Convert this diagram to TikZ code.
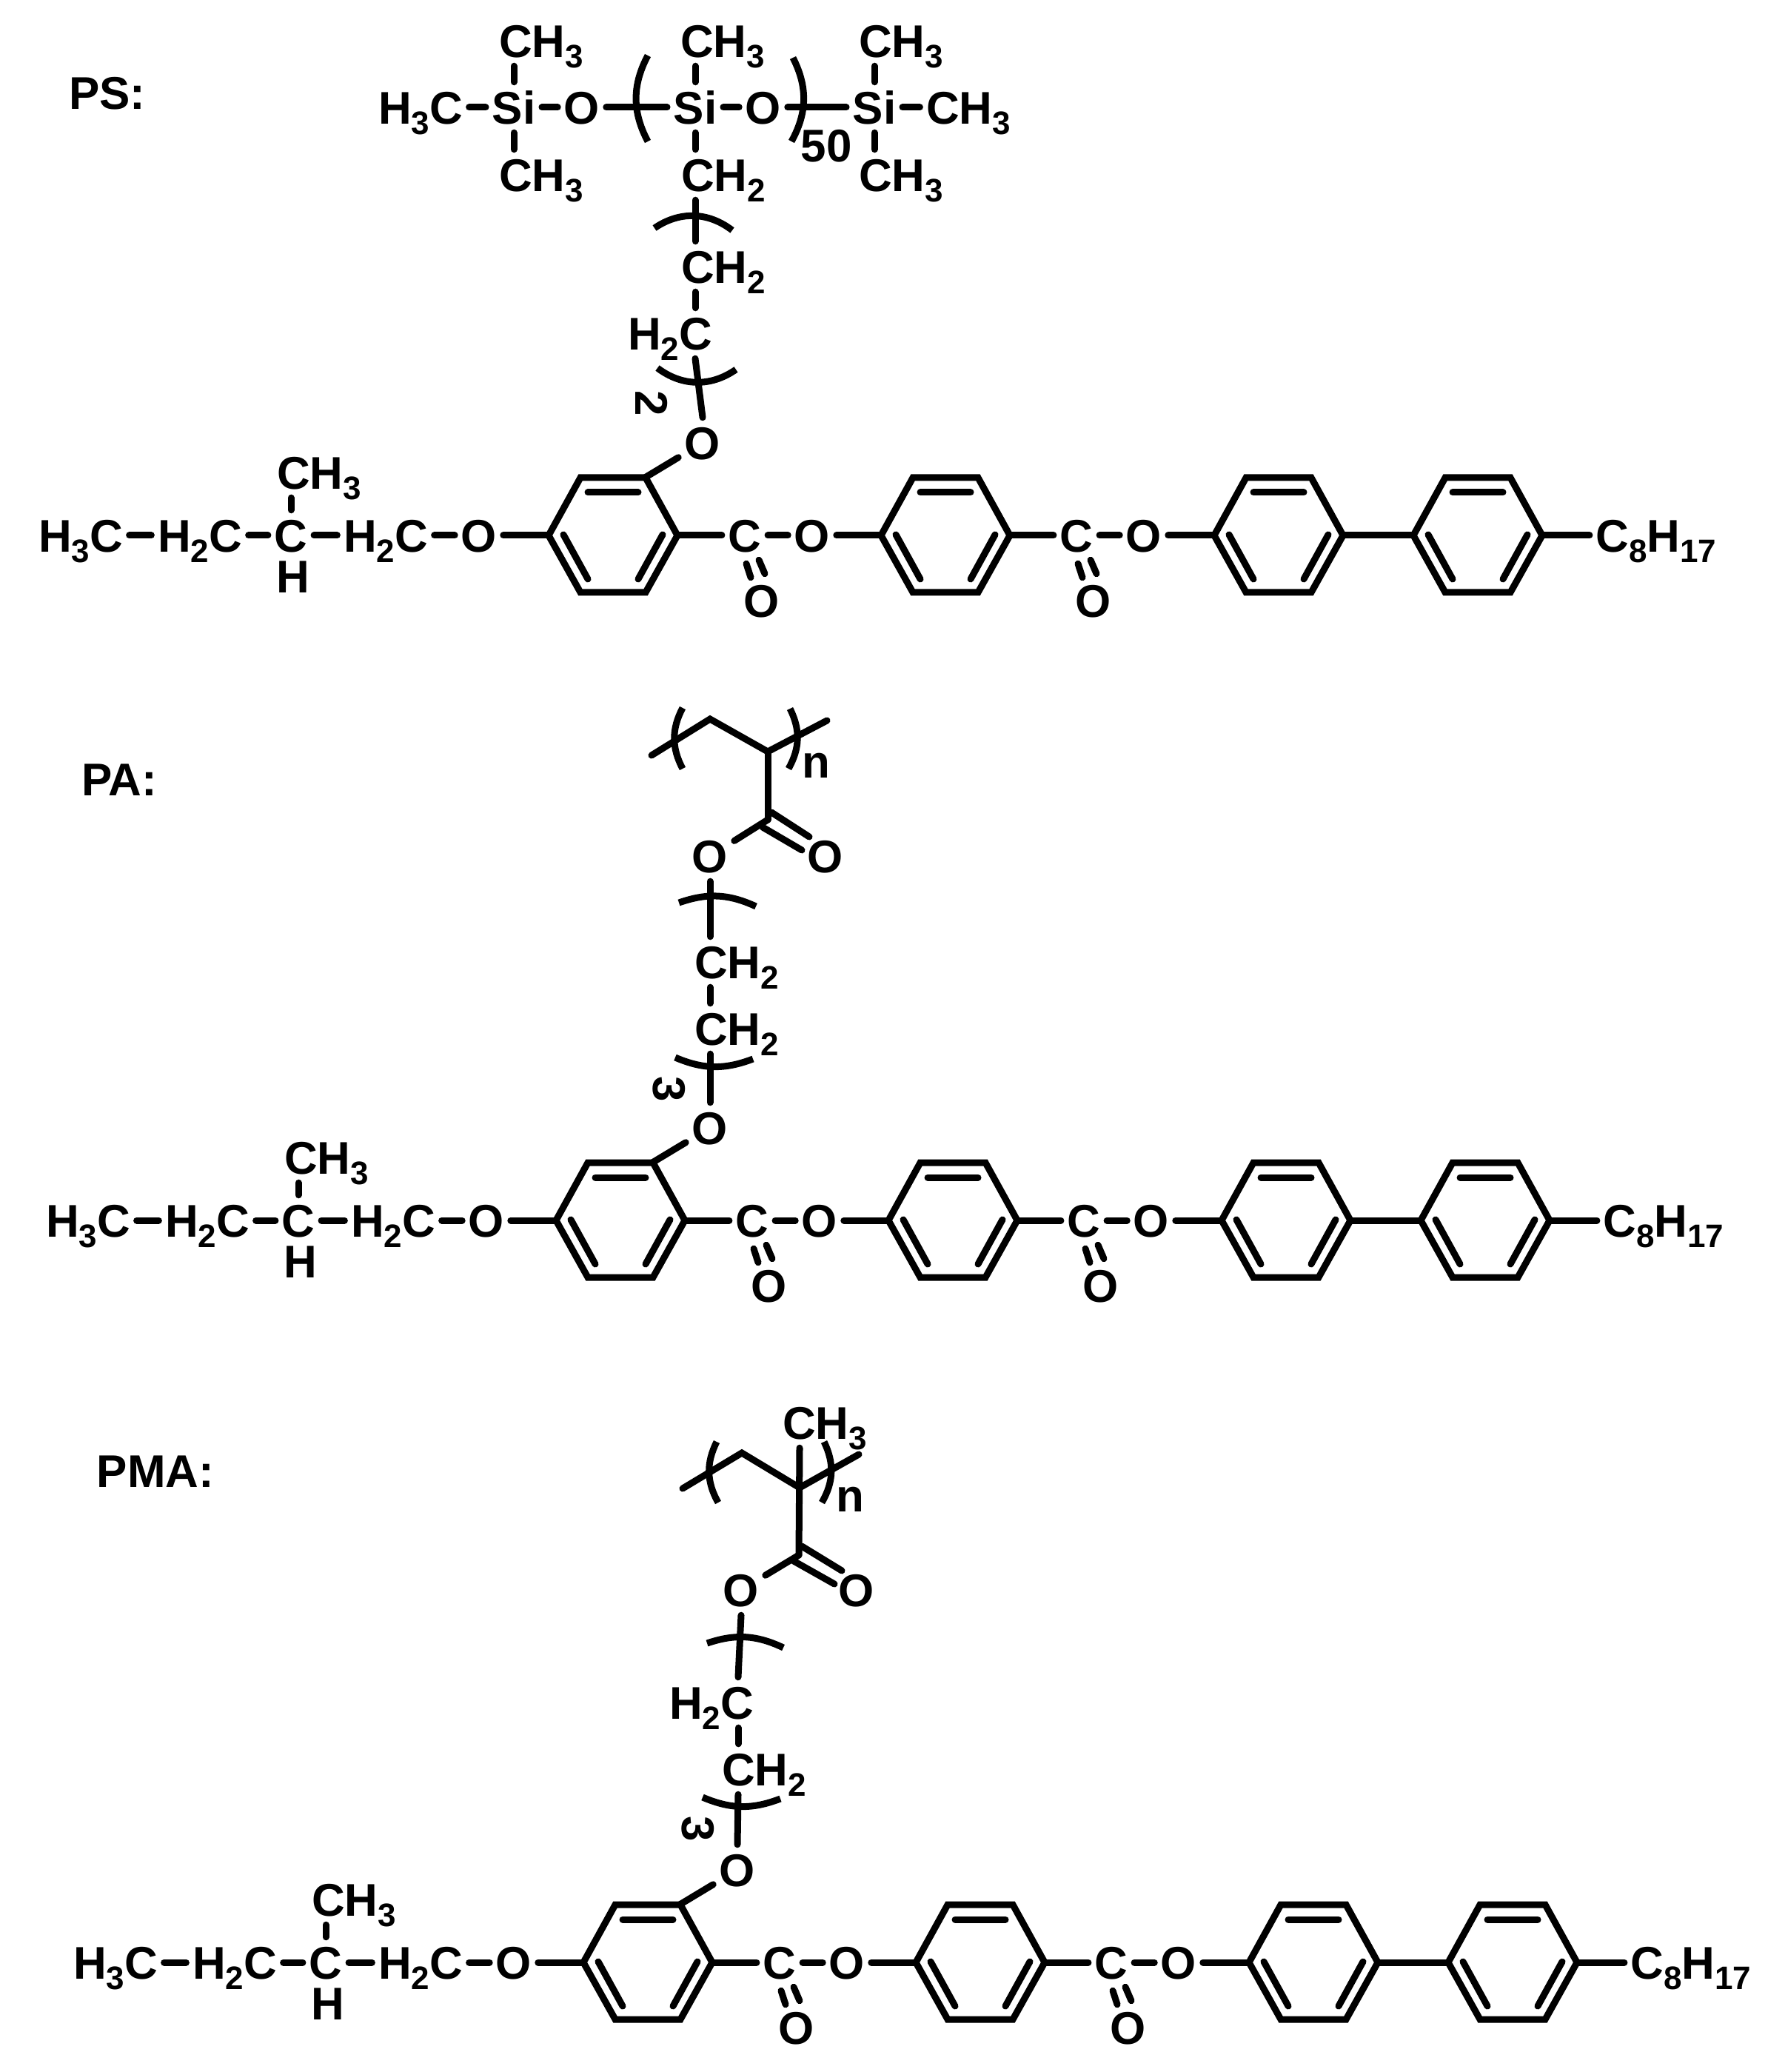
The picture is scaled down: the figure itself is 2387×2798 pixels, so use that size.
\documentclass[tikz,border=0pt]{standalone}
\usepackage{fontspec}
\setmainfont{Liberation Sans}
\newcommand{\lowr}[1]{\raisebox{-0.14cm}{\fontsize{12.5}{12.5}\selectfont #1}}
\tikzset{
  atom/.style = {font=\bfseries\fontsize{17.6}{20}\selectfont, text height=0.45cm,
    text depth=0pt, inner xsep=0.08cm, inner ysep=0.11cm},
  tag/.style = {atom, inner sep=0pt},
  turned/.style = {tag, rotate=-90},
  bond/.style = {line width=0.09cm, line cap=round},
  ringbond/.style = {line width=0.09cm, line join=miter},
  paren/.style = {line width=0.09cm}
}
\begin{document}
\begin{tikzpicture}[x=0.01cm,y=-0.01cm]
\useasboundingbox (0,0) rectangle (2387,2798);
% the mesogen tail, the same in all three
\foreach \m/\dx/\dy in {s/0/0,a/10/925,m/47/1927}{
\begin{scope}[shift={(\dx,\dy)}]
	\node [atom] (me\m) at (109,723) {H\lowr{3}C};
	\node [atom] (ea\m) at (270,723) {H\lowr{2}C};
	\node [atom] (ch\m) at (393,723) {C};
	\node [atom] (cm\m) at (431,638) {CH\lowr{3}};
	\node [atom] (hy\m) at (396,778) {H};
	\node [atom] (eb\m) at (521,723) {H\lowr{2}C};
	\node [atom] (ox\m) at (647,723) {O};
	\node [atom] (os\m) at (949,598) {O};
	\node [atom] (cc\m) at (2237,723) {C\lowr{8}H\lowr{17}};
	\coordinate (tv\m) at (871,645);
	\foreach \r [count=\i] in {828,1277,1727,1996}{
		\coordinate (l\i\m) at (\r-87,723);
		\coordinate (r\i\m) at (\r+87,723);
		\draw [ringbond] (l\i\m) -- (\r-44,645) -- (\r+44,645) -- (r\i\m) -- (\r+44,800) -- (\r-44,800) -- cycle;
		\draw [bond] (\r-34,665) -- (\r+34,665);
		\draw [bond] (\r-67,722) -- (\r-34,782);
		\draw [bond] (\r+67,722) -- (\r+34,782);
	}
	\foreach \x/\k/\n in {1006/1/2,1454/2/3}{
		\node [atom] (cb\k\m) at (\x,723) {C};
		\node [atom] (od\k\m) at (\x+23,811) {O};
		\node [atom] (oe\k\m) at (\x+91,723) {O};
		\draw [bond] (r\k\m) -- (cb\k\m);
		\draw [bond] (cb\k\m) -- (oe\k\m);
		\draw [bond] (oe\k\m) -- (l\n\m);
		\draw [bond] ([shift={(2,4)}]cb\k\m.south) -- ([shift={(-15,3)}]od\k\m.north);
		\draw [bond] ([shift={(19,-1)}]cb\k\m.south) -- ([shift={(4,-2)}]od\k\m.north);
	}
	\draw [bond] (me\m) -- (ea\m);
	\draw [bond] (ea\m) -- (ch\m);
	\draw [bond] (ch\m) -- (eb\m);
	\draw [bond] (eb\m) -- (ox\m);
	\draw [bond] (ox\m) -- (l1\m);
	\draw [bond] (ch\m.north) -- (ch\m.north |- cm\m.south);
	\draw [bond] (os\m) -- (tv\m);
	\draw [bond] (r3\m) -- (l4\m);
	\draw [bond] (r4\m) -- (cc\m);
\end{scope}
}
% PS head
\node [tag] (ps) at (145,125) {PS:};
\node [atom] (me1) at (568,145) {H\lowr{3}C};
\node [atom] (si1) at (694,145) {Si};
\node [atom] (ox1) at (786,145) {O};
\node [atom] (si2) at (939,145) {Si};
\node [atom] (ox2) at (1031,145) {O};
\node [atom] (si3) at (1181,145) {Si};
\node [atom] (me2) at (1308,145) {CH\lowr{3}};
\node [atom] (up1) at (731,55) {CH\lowr{3}};
\node [atom] (up2) at (976,55) {CH\lowr{3}};
\node [atom] (up3) at (1217,55) {CH\lowr{3}};
\node [atom] (dn1) at (731,236) {CH\lowr{3}};
\node [atom] (dn3) at (1217,236) {CH\lowr{3}};
\node [atom] (et1) at (977,236) {CH\lowr{2}};
\node [atom] (et2) at (977,360) {CH\lowr{2}};
\node [atom] (et3) at (905,450) {H\lowr{2}C};
\node [tag] (fifty) at (1116,196) {50};
\node [turned] (two) at (881,545) {2};
\draw [bond] (me1) -- (si1);
\draw [bond] (si1) -- (ox1);
\draw [bond] (ox1) -- (si2);
\draw [bond] (si2) -- (ox2);
\draw [bond] (ox2) -- (si3);
\draw [bond] (si3) -- (me2);
\draw [bond] (si1.north) -- (si1.north |- up1.south);
\draw [bond] (si1.south) -- (si1.south |- dn1.north);
\draw [bond] (si2.north) -- (si2.north |- up2.south);
\draw [bond] (si2.south) -- (si2.south |- et1.north);
\draw [bond] (si3.north) -- (si3.north |- up3.south);
\draw [bond] (si3.south) -- (si3.south |- dn3.north);
\draw [bond] (si2 |- et1.south) -- (si2 |- et2.north);
\draw [bond] (si2 |- et2.south) -- (si2 |- et3.north);
\draw [bond] (si2 |- et3.south) -- (oss.north);
\draw [paren] (875,75) to [bend right=28] (875,191);
\draw [paren] (1071,78) to [bend left=28] (1069,191);
\draw [paren] (884,308) to [bend left=36] (989,311);
\draw [paren] (888,497) to [bend right=36] (994,499);
% PA head
\node [tag] (pa) at (161,1052) {PA:};
\coordinate (ae) at (880,1020);
\coordinate (ab) at (959,971);
\coordinate (ac) at (1037,1015);
\coordinate (af) at (1117,973);
\coordinate (ak) at (1037,1107);
\node [atom] (ao) at (959,1156) {O};
\node [atom] (ad) at (1115,1156) {O};
\node [atom] (a1) at (995,1299) {CH\lowr{2}};
\node [atom] (a2) at (995,1389) {CH\lowr{2}};
\node [tag, anchor=base] (an) at (1102,1050) {n};
\node [turned] (a3) at (905,1471) {3};
\draw [bond] (ae) -- (ab) -- (ac) -- (af);
\draw [bond] (ac) -- (ak);
\draw [bond] (ak) -- (ao);
\draw [bond] ([shift={(5,-10)}]ak) -- ([shift={(-22,-26)}]ad.center);
\draw [bond] ([shift={(-7,10)}]ak) -- ([shift={(-32,-8)}]ad.center);
\draw [bond] (ao.south) -- (ao.south |- a1.north);
\draw [bond] (ao.south |- a1.south) -- (ao.south |- a2.north);
\draw [bond] (ao.south |- a2.south) -- (osa.north);
\draw [paren] (922,956) to [bend right=28] (922,1038);
\draw [paren] (1067,957) to [bend left=28] (1065,1038);
\draw [paren] (917,1219) to [bend left=22] (1021,1224);
\draw [paren] (912,1428) to [bend right=22] (1017,1430);
% PMA head
\node [tag] (pma) at (210,1986) {PMA:};
\coordinate (me) at (922,2010);
\coordinate (mb) at (1002,1962);
\coordinate (mc) at (1080,2009);
\coordinate (mf) at (1160,1964);
\coordinate (mk) at (1079,2100);
\node [atom] (mq) at (1114,1921) {CH\lowr{3}};
\node [atom] (mo) at (1001,2147) {O};
\node [atom] (md) at (1157,2147) {O};
\node [atom] (m1) at (961,2299) {H\lowr{2}C};
\node [atom] (m2) at (1032,2389) {CH\lowr{2}};
\node [tag, anchor=base] (mn) at (1148,2041) {n};
\node [turned] (m3) at (944,2470) {3};
\draw [bond] (me) -- (mb) -- (mc) -- (mf);
\draw [bond] (mc |- mq.south) -- (mk);
\draw [bond] (mk) -- (mo);
\draw [bond] ([shift={(4,-12)}]mk) -- ([shift={(-20,-26)}]md.center);
\draw [bond] ([shift={(-7,8)}]mk) -- ([shift={(-30,-8)}]md.center);
\draw [bond] (mo.south) -- (m1.north -| 997,0);
\draw [bond] (m1.south -| 997,0) -- (m2.north -| 997,0);
\draw [bond] (m2.south -| 997,0) -- (osm.north);
\draw [paren] (968,1947) to [bend right=28] (970,2029);
\draw [paren] (1113,1947) to [bend left=28] (1110,2029);
\draw [paren] (955,2219) to [bend left=22] (1058,2225);
\draw [paren] (949,2427) to [bend right=22] (1054,2429);
\end{tikzpicture}
\end{document}
